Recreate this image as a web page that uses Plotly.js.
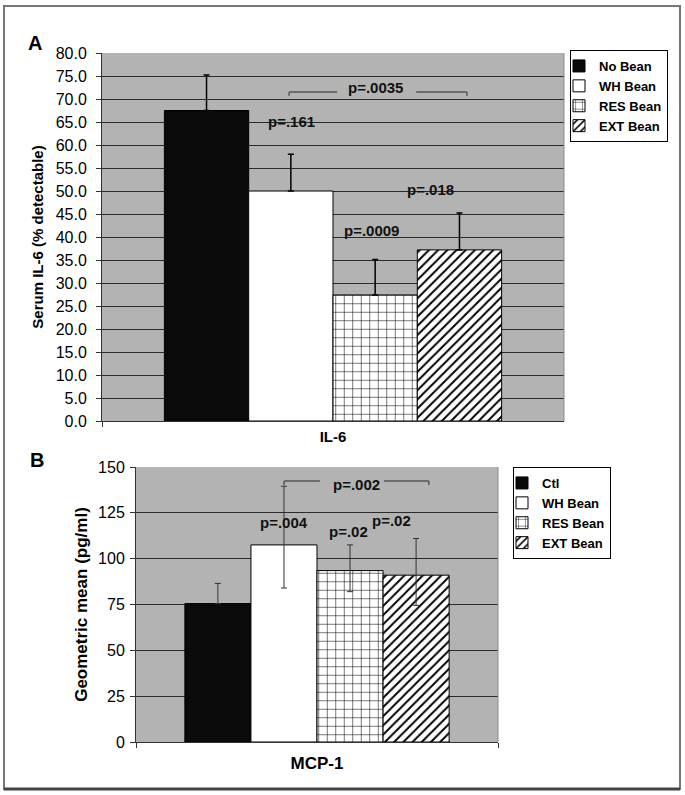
<!DOCTYPE html>
<html>
<head>
<meta charset="utf-8">
<script src="https://cdn.plot.ly/plotly-3.0.1.min.js"></script>
<style>html,body{margin:0;padding:0;background:#fff;}#chart{width:685px;height:795px;}</style>
</head>
<body>
<div id="chart"></div>
<script>
// ---- Data ----
const catA = ['IL-6'];
const namesA = ['No Bean', 'WH Bean', 'RES Bean', 'EXT Bean'];
const valsA = [67.5, 50.0, 27.4, 37.2];
const errUpA = [7.7, 8.0, 7.7, 8.0];

const catB = ['MCP-1'];
const namesB = ['Ctl', 'WH Bean', 'RES Bean', 'EXT Bean'];
const valsB = [75.5, 107.5, 93.5, 91.0];
const errUpB = [11.0, 32.0, 14.0, 20.0];
const errDownB = [0, 23.5, 11.5, 16.5];

const pLabelsA = ['p=.161', 'p=.0035', 'p=.0009', 'p=.018'];
const pLabelsB = ['p=.004', 'p=.002', 'p=.02', 'p=.02'];

// ---- Styles ----
const FONT = 'Liberation Sans, Arial, sans-serif';
const W = 685, H = 795;
const styles = [
  {color: '#0a0a0a', pattern: {shape: ''}},
  {color: '#ffffff', pattern: {shape: ''}},
  {color: '#ffffff', pattern: {shape: '+', fgcolor: '#000', bgcolor: '#fff', size: 8.5, solidity: 0.12, fillmode: 'replace'}},
  {color: '#ffffff', pattern: {shape: '/', fgcolor: '#000', bgcolor: '#fff', size: 6.5, solidity: 0.3, fillmode: 'replace'}}
];

const traces = [];
namesA.forEach((n, i) => {
  traces.push({
    type: 'bar', x: catA, y: [valsA[i]], name: n, xaxis: 'x', yaxis: 'y', legend: 'legend',
    marker: {color: styles[i].color, pattern: styles[i].pattern, line: {color: '#000', width: 1}},
    error_y: {type: 'data', symmetric: false, array: [errUpA[i]], arrayminus: [0], color: '#000', thickness: 1.5, width: 3},
    hoverinfo: 'skip'
  });
});
namesB.forEach((n, i) => {
  traces.push({
    type: 'bar', x: catB, y: [valsB[i]], name: n, xaxis: 'x2', yaxis: 'y2', legend: 'legend2',
    marker: {color: styles[i].color, pattern: styles[i].pattern, line: {color: '#000', width: 1}},
    error_y: {type: 'data', symmetric: false, array: [errUpB[i]], arrayminus: [errDownB[i]], color: '#333', thickness: 1, width: 3},
    hoverinfo: 'skip'
  });
});

const px = (v) => v / W;
const py = (v) => 1 - v / H;

const gridC = '#2a2a2a';
const layout = {
  width: W, height: H,
  margin: {l: 0, r: 0, t: 0, b: 0},
  paper_bgcolor: '#fff',
  plot_bgcolor: '#b3b3b3',
  barmode: 'group',
  bargap: 0.27,
  bargroupgap: 0,
  font: {family: FONT, color: '#000'},
  showlegend: true,
  xaxis: {
    domain: [px(102), px(564)], anchor: 'y', type: 'category',
    showline: true, linecolor: '#333', linewidth: 1,
    ticks: 'outside', tickson: 'boundaries', ticklen: 5, tickcolor: '#333',
    tickfont: {size: 15, family: FONT, weight: 'bold'}, ticklabelstandoff: 2,
    showgrid: false, fixedrange: true
  },
  yaxis: {
    domain: [py(421), py(53)], anchor: 'x', range: [0, 80], dtick: 5, tickformat: '.1f',
    showline: true, linecolor: '#333', linewidth: 1,
    ticks: 'outside', ticklen: 5, tickcolor: '#333',
    tickfont: {size: 16, family: FONT}, ticklabelstandoff: 6,
    showgrid: true, gridcolor: gridC, gridwidth: 1, zeroline: false,
    title: {text: '<b>Serum IL-6 (% detectable)</b>', font: {size: 15, family: FONT}, standoff: 8}
  },
  xaxis2: {
    domain: [px(136), px(498)], anchor: 'y2', type: 'category',
    showline: true, linecolor: '#333', linewidth: 1,
    ticks: 'outside', tickson: 'boundaries', ticklen: 5, tickcolor: '#333',
    tickfont: {size: 17, family: FONT, weight: 'bold'}, ticklabelstandoff: 6,
    showgrid: false
  },
  yaxis2: {
    domain: [py(742), py(467)], anchor: 'x2', range: [0, 150], dtick: 25,
    showline: true, linecolor: '#333', linewidth: 1,
    ticks: 'outside', ticklen: 5, tickcolor: '#333',
    tickfont: {size: 16, family: FONT}, ticklabelstandoff: 2,
    showgrid: true, gridcolor: gridC, gridwidth: 1, zeroline: false,
    title: {text: '<b>Geometric mean (pg/ml)</b>', font: {size: 17, family: FONT}, standoff: 6}
  },
  legend: {
    x: px(570), y: py(50), xanchor: 'left', yanchor: 'top',
    bgcolor: '#fff', bordercolor: '#000', borderwidth: 1,
    font: {size: 13, family: FONT, weight: 'bold'}, indentation: -12, itemwidth: 30, tracegroupgap: 0
  },
  legend2: {
    x: px(513), y: py(467), xanchor: 'left', yanchor: 'top',
    bgcolor: '#fff', bordercolor: '#000', borderwidth: 1,
    font: {size: 13, family: FONT, weight: 'bold'}, indentation: -12, itemwidth: 30, tracegroupgap: 0
  },
  shapes: [
    {type: 'rect', xref: 'paper', yref: 'paper', x0: px(4), x1: px(680), y0: py(789), y1: py(6), line: {color: '#777', width: 2}},
    {type: 'line', xref: 'paper', yref: 'paper', x0: px(4), x1: px(680), y0: py(789), y1: py(789), line: {color: '#444', width: 3}},
    {type: 'line', xref: 'x domain', yref: 'y domain', x0: 1, x1: 1, y0: 0, y1: 1, line: {color: '#8a8a8a', width: 1}},
    {type: 'line', xref: 'x2 domain', yref: 'y2 domain', x0: 1, x1: 1, y0: 0, y1: 1, line: {color: '#8a8a8a', width: 1}}
  ],
  annotations: []
};

function bracket(xr, yr, xL0, xL1, xR0, xR1, yTop, yTick) {
  const ln = {color: '#555', width: 1.5};
  return [
    {type: 'line', xref: xr, yref: yr, x0: xL0, x1: xL0, y0: yTick, y1: yTop, line: ln},
    {type: 'line', xref: xr, yref: yr, x0: xL0, x1: xL1, y0: yTop, y1: yTop, line: ln},
    {type: 'line', xref: xr, yref: yr, x0: xR0, x1: xR1, y0: yTop, y1: yTop, line: ln},
    {type: 'line', xref: xr, yref: yr, x0: xR1, x1: xR1, y0: yTop, y1: yTick, line: ln}
  ];
}
layout.shapes = layout.shapes.concat(
  bracket('x domain', 'y', 0.405, 0.509, 0.68, 0.79, 71.5, 70.7),
  bracket('x2 domain', 'y2', 0.409, 0.508, 0.685, 0.809, 142.4, 140.2)
);

const annA = [[0.411, 65.0], [0.593, 72.6], [0.584, 41.5], [0.766, 50.4]];
pLabelsA.forEach((t, i) => layout.annotations.push({
  xref: 'x domain', yref: 'y', x: annA[i][0], y: annA[i][1], text: '<b>' + t + '</b>',
  showarrow: false, font: {size: 15, family: FONT, color: '#111'}
}));
const annB = [[0.409, 120.0], [0.61, 140.7], [0.586, 115.0], [0.765, 120.6]];
pLabelsB.forEach((t, i) => layout.annotations.push({
  xref: 'x2 domain', yref: 'y2', x: annB[i][0], y: annB[i][1], text: '<b>' + t + '</b>',
  showarrow: false, font: {size: 15, family: FONT, color: '#111'}
}));
layout.annotations.push(
  {xref: 'paper', yref: 'paper', x: px(35), y: py(43), xanchor: 'center', yanchor: 'middle', text: '<b>A</b>', showarrow: false, font: {size: 20, family: FONT}},
  {xref: 'paper', yref: 'paper', x: px(37), y: py(460), xanchor: 'center', yanchor: 'middle', text: '<b>B</b>', showarrow: false, font: {size: 20, family: FONT}}
);

Plotly.newPlot('chart', traces, layout, {staticPlot: true, displayModeBar: false});
</script>
</body>
</html>
